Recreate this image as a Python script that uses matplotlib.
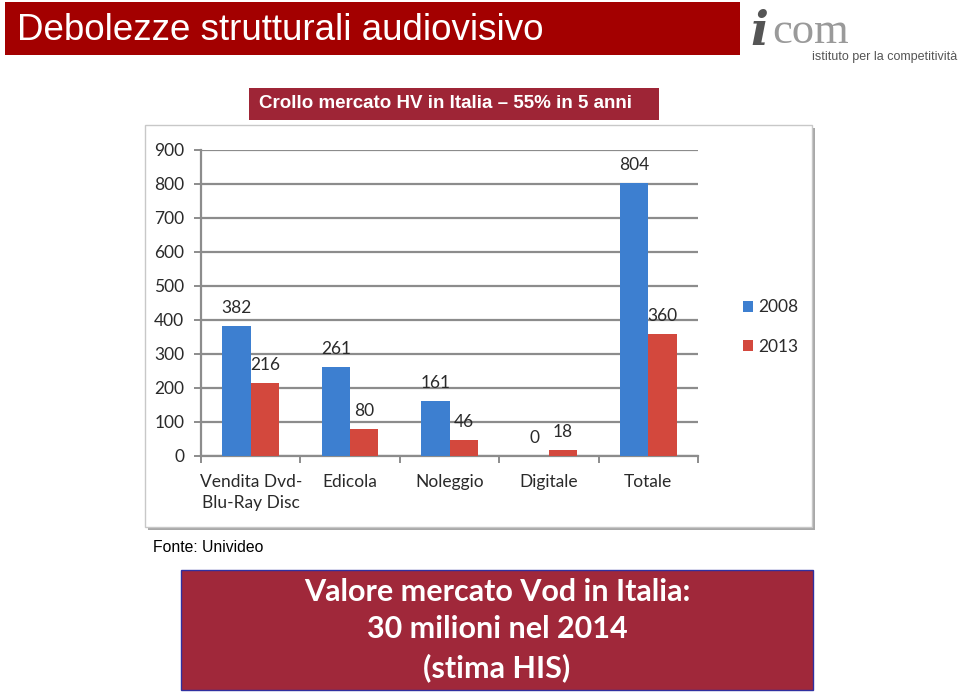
import matplotlib
matplotlib.use("Agg")
import matplotlib.pyplot as plt
import matplotlib.patches as patches
import numpy as np

# dati (milioni di euro)
categorie = ["Vendita Dvd-\nBlu-Ray Disc", "Edicola", "Noleggio", "Digitale", "Totale"]
valori_2008 = [382, 261, 161, 0, 804]
valori_2013 = [216, 80, 46, 18, 360]
anni = ["2008", "2013"]
y_ticks = [0, 100, 200, 300, 400, 500, 600, 700, 800, 900]

W, H = 960, 693
BLU = "#3D7FD0"
ROSSO = "#D3483D"
NARROW = ["Liberation Sans Narrow", "Liberation Sans", "DejaVu Sans"]
CAL = ["Lato", "DejaVu Sans"]


def fx(x):
    return x / W


def fy(y):
    return 1 - y / H


def box(fig, x0, y0, x1, y1, **kw):
    r = patches.Rectangle((fx(x0), fy(y1)), (x1 - x0) / W, (y1 - y0) / H,
                          transform=fig.transFigure, zorder=-5, **kw)
    fig.add_artist(r)
    return r


fig = plt.figure(figsize=(9.6, 6.93), dpi=100)
fig.patch.set_facecolor("white")

# barra del titolo
box(fig, 5, 2, 740, 55, facecolor="#A30000", edgecolor="none")
fig.text(fx(17), fy(30), "Debolezze strutturali audiovisivo", color="white",
         fontsize=26.5, family=NARROW, va="center", ha="left")

# logo
fig.text(fx(750), fy(32), "i", color="#555555", fontsize=34, family="DejaVu Serif",
         style="italic", weight="bold", va="center", ha="left")
fig.text(fx(772), fy(32), "com", color="#9A9A9A", fontsize=32, family="Liberation Serif",
         va="center", ha="left")
fig.text(fx(957), fy(57), "istituto per la competitività", color="#555555", fontsize=9,
         family=NARROW, va="center", ha="right")

# sottotitolo
box(fig, 249, 88, 659, 120, facecolor="#9E2536", edgecolor="none")
fig.text(fx(259), fy(104), "Crollo mercato HV in Italia \u2013 55% in 5 anni", color="white",
         fontsize=13.5, family=NARROW, weight="bold", va="center", ha="left")

# cornice del grafico
box(fig, 148, 128, 815, 530, facecolor="#A8A8A8", edgecolor="none")
box(fig, 145, 125, 812, 527, facecolor="white", edgecolor="#C8C8C8", linewidth=1)

ax = fig.add_axes([fx(201), fy(456), (698 - 201) / W, (456 - 150) / H])
ax.set_facecolor("none")
ax.set_zorder(5)

x = np.arange(len(categorie))
w = 0.285
b1 = ax.bar(x - w / 2, valori_2008, w, color=BLU, label=anni[0], zorder=3)
b2 = ax.bar(x + w / 2, valori_2013, w, color=ROSSO, label=anni[1], zorder=3)

for bars, vals in ((b1, valori_2008), (b2, valori_2013)):
    for r, v in zip(bars, vals):
        ax.annotate(str(v), (r.get_x() + r.get_width() / 2, v), xytext=(0, 13),
                    textcoords="offset points", ha="center", va="center",
                    fontsize=12.5, family=CAL, color="#2A2A2A")

ax.set_xlim(-0.5, 4.5)
ax.set_ylim(0, 900)
ax.set_yticks(y_ticks)
ax.yaxis.grid(True, color="#8C8C8C", linewidth=1.6, zorder=0)
ax.set_xticks(x)
ax.set_xticklabels(categorie, family=CAL, fontsize=12.5, color="#2A2A2A", linespacing=1.4)
ax.set_xticks(np.arange(-0.5, 5, 1), minor=True)
ax.tick_params(axis="x", which="major", length=0, pad=13)
ax.tick_params(axis="x", which="minor", length=5, color="#8C8C8C", width=1.4)
ax.tick_params(axis="y", length=5, color="#8C8C8C", width=1.4, pad=7, labelsize=12.5,
               labelcolor="#2A2A2A")
for lab in ax.get_yticklabels():
    lab.set_family(CAL)
for s in ["top", "right"]:
    ax.spines[s].set_visible(False)
for s in ["left", "bottom"]:
    ax.spines[s].set_color("#8C8C8C")
    ax.spines[s].set_linewidth(1.6)

leg = ax.legend(loc="center left", bbox_to_anchor=(fx(727), fy(327)),
                bbox_transform=fig.transFigure, frameon=False, handlelength=0.6,
                handleheight=0.6, handletextpad=0.3, labelspacing=1.35,
                prop={"family": CAL, "size": 12.5})
for t in leg.get_texts():
    t.set_color("#2A2A2A")

fig.text(fx(153), fy(547), "Fonte: Univideo", color="black", fontsize=11.3,
         family=NARROW, va="center", ha="left")

# riquadro in basso
box(fig, 181, 570, 813, 690, facecolor="#A0283A", edgecolor="#3030A0", linewidth=1)
fig.text(fx(497), fy(630), "Valore mercato Vod in Italia:\n30 milioni nel 2014\n(stima HIS)",
         color="white", fontsize=22, family=CAL, weight="bold", ha="center", va="center",
         linespacing=1.4)

fig.savefig("out.png", dpi=100)
